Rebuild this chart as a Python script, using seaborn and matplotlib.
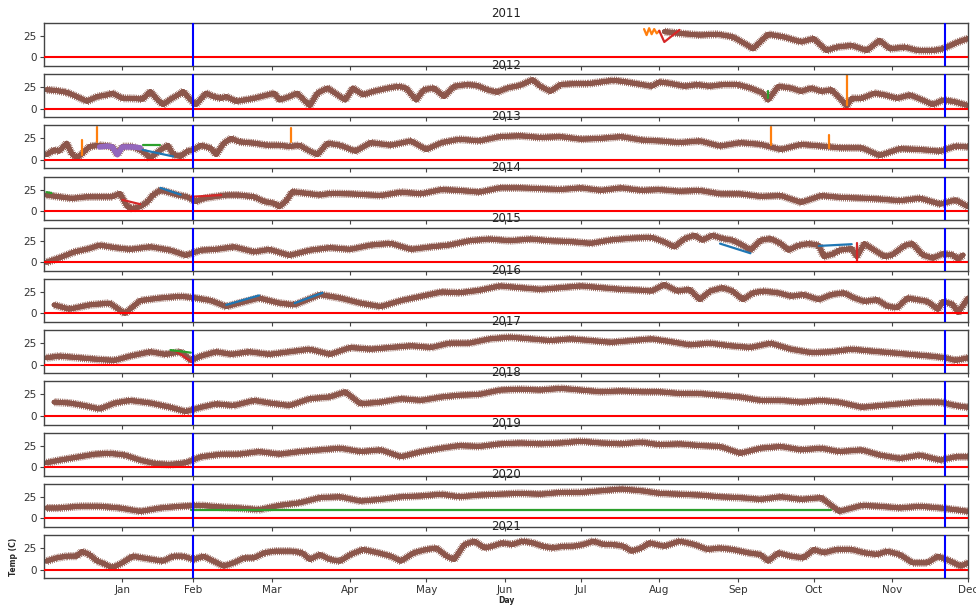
import matplotlib
matplotlib.use("Agg")
import matplotlib.pyplot as plt
import matplotlib.patheffects as pe
import seaborn as sns

# x axis: days counted from Dec 1 of the previous year
month_days = [31, 59, 90, 121, 151, 182, 212, 243, 274, 304, 335, 365]
month_labels = ["Jan", "Feb", "Mar", "Apr", "May", "Jun", "Jul", "Aug", "Sep", "Oct", "Nov", "Dec"]
marker_days = [59, 356]
years = [2011, 2012, 2013, 2014, 2015, 2016, 2017, 2018, 2019, 2020, 2021]

# main logger (brown)
days_2011 = [245, 251, 259, 266, 272, 278, 280, 286, 292, 299, 304, 309, 313, 319, 325, 330, 334, 340, 345, 351, 355, 361, 365]
temp_2011 = [30, 28, 26, 27, 24, 14, 10, 27, 24, 18, 22, 8, 12, 14, 8, 20, 10, 12, 8, 8, 10, 18, 22]

days_2012 = [1, 5, 9, 13, 17, 21, 25, 27, 31, 35, 39, 42, 45, 47, 50, 53, 55, 58, 60, 64,
             67, 70, 72, 76, 79, 83, 87, 91, 93, 97, 100, 102, 105, 108, 112, 114, 119, 122, 126, 130,
             136, 140, 143, 147, 150, 154, 158, 162, 167, 171, 175, 179, 183, 188, 193, 196, 200, 204, 209, 215,
             220, 225, 230, 236, 240, 243, 247, 253, 258, 263, 268, 274, 279, 284, 286, 290, 295, 299, 303, 307,
             311, 315, 317, 319, 323, 328, 332, 337, 342, 347, 351, 355, 359, 365]
temp_2012 = [22, 21, 19, 14, 8.5, 14, 16, 18, 12, 12, 11, 20, 10, 4.6, 11, 16, 20, 10, 4.6, 18,
             14, 12, 14, 8.5, 10, 12, 15, 18, 10, 14, 18, 12, 3.5, 18, 24, 20, 10, 24, 16, 20,
             24, 26, 24, 10, 22, 24, 14, 26, 28, 27, 22, 19, 24, 27, 33.7, 26, 20, 28, 29, 29,
             31, 33, 31, 28, 26, 31, 29.5, 26, 28, 26, 28, 28, 24, 18, 10, 26, 24, 20, 24, 20,
             22, 10, 3, 12, 12, 18, 16, 12, 16, 10, 4.6, 10, 8.5, 3.5]

days_2013 = [1, 4, 6, 9, 11, 13, 15, 18, 22, 27, 29, 31, 35, 39, 42, 46, 49, 51, 54, 56.5,
             59, 62, 66, 68, 71, 74, 77, 83, 88, 93, 97, 101, 104, 108, 112, 117, 123, 129, 137, 145,
             151, 157, 164, 172, 180, 188, 196, 204, 212, 220, 228, 236, 243, 251, 259, 267, 275, 283, 291, 299,
             307, 314, 323, 330, 338, 346, 354, 360, 365]
temp_2013 = [6, 11.6, 10, 19.4, 7, 2, 7, 15.5, 17, 15.5, 6, 15.5, 15.5, 10, 2, 11.6, 17, 6, 4, 10,
             11.6, 17, 13.5, 6, 19.4, 25, 21, 19.4, 17, 17, 15.5, 17, 11.6, 6, 19.4, 17, 10, 20, 17, 22,
             12, 20, 24, 22, 27, 28, 26, 27, 24, 25, 27, 23, 22, 20, 22, 16, 20, 18, 12, 18,
             16, 14, 14, 5, 13, 12, 10, 16, 15]

days_2014 = [1, 6, 11, 17, 22, 27, 30, 33, 35, 38, 41, 43, 46, 49, 53, 56.5, 60, 63, 67, 72,
             77, 83, 87, 91, 93, 96, 98, 104, 109, 113, 121, 133, 141, 149, 157, 164, 172, 180, 188, 196,
             204, 212, 220, 228, 236, 243, 251, 259, 267, 275, 283, 291, 299, 307, 314, 323, 330, 338, 346, 354,
             360, 365]
temp_2014 = [18.6, 16.6, 14.7, 16.6, 16.6, 16.6, 20.5, 5, 3, 5, 11, 18.6, 24.4, 22, 18.6, 16.6, 11, 14.7, 16.6, 18.6,
             18.6, 16.6, 11, 9, 5, 12.8, 22.5, 20.5, 18.6, 20.5, 20, 18, 22, 20, 25, 24, 22, 27, 27, 26,
             25, 27, 24, 27, 24, 25, 23, 24, 20, 20, 17, 18, 10, 18, 16, 15, 14, 12, 15, 8,
             13, 5]

days_2015 = [1, 6, 12, 18, 22, 28, 34, 42, 50, 56, 62, 68, 75, 83, 89, 97, 105, 113, 121, 129,
             137, 145, 153, 160, 168, 176, 184, 192, 200, 208, 216, 224, 232, 240, 245, 249, 253, 257, 260, 264,
             268, 272, 276, 279, 283, 287, 291, 294, 298, 302, 306, 308, 312, 314, 319, 321, 324, 328, 332, 335,
             340, 343, 347, 351, 355, 359, 361, 363]
temp_2015 = [0, 5, 12, 16, 20, 17, 15, 18, 14, 8, 14, 15, 18, 12, 15, 8, 14, 17, 15, 20,
             22, 15, 18, 20, 25, 27, 25, 27, 25, 24, 22, 26, 28, 29, 23.6, 17.8, 27.5, 31.4, 25.6, 31.4,
             27.5, 25.6, 19.7, 14, 25.6, 27.5, 21.7, 14, 19.7, 21.7, 19.7, 6.6, 10, 14, 15.9, 6.6, 21.7, 14, 6.6, 8.5,
             19.7, 21.7, 8.5, 4.7, 10, 8.5, 3.5, 8.5]

days_2016 = [4, 10, 18, 26, 32, 38, 46, 54, 60, 66, 72, 77, 85, 93, 99, 109, 117, 125, 133, 141,
             149, 157, 164, 172, 180, 188, 196, 204, 212, 220, 228, 236, 240, 245, 250, 255, 259, 263, 268, 272,
             276, 280, 284, 290, 295, 300, 306, 311, 316, 320, 324, 329, 333, 337, 341, 345, 349, 353, 355, 359,
             361, 365]
temp_2016 = [10, 5, 10, 12, 0, 15, 18, 20, 18, 15, 8, 12, 18, 12, 10, 22, 18, 12, 8, 15,
             20, 25, 24, 27, 32, 30, 28, 30, 32, 30, 28, 27, 26, 33.7, 26, 28, 16, 26, 30, 26,
             16, 24, 26, 24, 20, 22, 16, 22, 24, 18, 14, 16, 8.5, 6.6, 18, 16, 14, 4.7, 14, 10.5,
             1, 18]

days_2017 = [1, 6, 14, 22, 28, 34, 42, 48, 54, 58, 62, 68, 74, 81, 89, 97, 105, 113, 121, 129,
             137, 145, 153, 160, 168, 176, 184, 192, 200, 208, 216, 224, 232, 240, 247, 255, 263, 271, 279, 287,
             295, 303, 311, 319, 326, 334, 342, 350, 356, 360, 365]
temp_2017 = [8, 10, 8, 6, 5, 10, 15, 12, 15, 5, 10, 15, 12, 15, 12, 15, 18, 12, 20, 18,
             20, 22, 20, 25, 25, 30, 32, 30, 28, 30, 28, 26, 28, 30, 27, 23, 25, 22, 20, 25,
             18, 14, 15, 18, 16, 14, 12, 10, 8, 5, 8]

days_2018 = [4, 10, 16, 22, 28, 34, 42, 50, 56, 62, 68, 75, 83, 89, 97, 105, 113, 119, 125, 133,
             141, 149, 157, 164, 172, 180, 188, 196, 204, 212, 220, 228, 236, 243, 251, 259, 267, 275, 283, 291,
             299, 307, 314, 323, 330, 338, 346, 354, 360, 365]
temp_2018 = [16, 15, 12, 8, 15, 18, 15, 10, 5, 10, 14, 12, 18, 15, 12, 20, 22, 28, 14, 16,
             20, 18, 22, 24, 25, 30, 31, 30, 32, 30, 28, 29, 28, 28, 26, 26, 24, 22, 18, 18,
             16, 18, 16, 10, 12, 14, 16, 16, 12, 10]

days_2019 = [1, 6, 14, 20, 26, 32, 38, 44, 50, 56, 62, 70, 77, 85, 93, 101, 109, 117, 125, 133,
             141, 149, 157, 164, 172, 180, 188, 196, 204, 212, 220, 228, 236, 243, 251, 259, 267, 275, 283, 291,
             299, 307, 314, 323, 330, 338, 346, 354, 360, 365]
temp_2019 = [5, 8, 12, 15, 16, 14, 8, 4, 3, 5, 12, 15, 15, 18, 15, 18, 20, 22, 18, 20,
             12, 18, 22, 25, 24, 27, 28, 27, 28, 30, 28, 27, 29, 26, 27, 25, 24, 16, 22, 24,
             20, 22, 18, 20, 14, 10, 14, 8, 12, 12]

days_2020 = [1, 6, 14, 22, 30, 38, 46, 54, 62, 70, 77, 85, 93, 101, 109, 117, 125, 133, 141, 149,
             157, 164, 172, 180, 188, 196, 204, 212, 220, 228, 236, 243, 251, 259, 267, 275, 283, 291, 299, 307,
             314, 323, 330, 338, 346, 354, 360, 365]
temp_2020 = [12, 12, 14, 14, 12, 8, 12, 14, 15, 13, 12, 10, 15, 18, 24, 25, 20, 22, 25, 26,
             28, 25, 27, 28, 29, 28, 30, 30, 32, 34, 32, 29, 28, 27, 25, 24, 22, 25, 22, 24,
             8, 15, 14, 12, 14, 12, 10, 8]

days_2021 = [1, 5, 9, 13, 15, 18, 21, 23, 27, 31, 35, 39, 43, 47, 51, 55, 59, 63, 67, 71,
             75, 79, 83, 87, 91, 94, 98, 102, 105, 109, 113, 117, 121, 126, 132, 137, 141, 146, 151, 155,
             159, 162, 166, 170, 174, 177, 181, 185, 189, 193, 197, 201, 205, 209, 213, 217, 221, 225, 229, 232,
             236, 239, 245, 251, 257, 262, 267, 272, 278, 283, 286, 290, 295, 300, 304, 308, 313, 319, 324, 329,
             333, 338, 343, 349, 353, 358, 362, 365]
temp_2021 = [9.7, 13.5, 15.5, 15.5, 21, 17.4, 9.7, 7.8, 2, 7.8, 15.5, 13.5, 11.6, 9.7, 15.5, 15.5, 11.6, 15.5, 9.7, 3.9,
             7.8, 13.5, 13.5, 19.4, 21.3, 21.3, 21.3, 19.4, 11.6, 17.4, 11.6, 9.7, 17.4, 23.3, 19.4, 15.5, 9.7, 19.4, 23.3, 25,
             15.5, 11.6, 29, 33, 25, 27, 31, 29, 33, 31, 27, 25, 27, 27, 29, 33, 29, 29, 27, 21.3,
             25, 31, 27, 33, 29, 23.3, 25, 23.3, 19.4, 17.4, 9.7, 19.4, 15.5, 13.5, 23.3, 19.4, 23.3, 23.3, 19.4, 17.4,
             21.3, 17.4, 7.8, 7.8, 15.5, 9.7, 3.9, 7.8]

# the other loggers, only where they stand out from the brown one: (colour, days, temps)
extra_2011 = [("C1", [237, 238, 239, 240, 241, 242, 243], [33, 26, 34, 27, 33, 28, 31]),
              ("C3", [243, 245, 251], [31, 18, 32])]
extra_2012 = [("C1", [317, 317], [39, 4]),
              ("C2", [286, 286], [20, 12])]
extra_2013 = [("C4", [22, 25, 27, 29, 31, 35, 38], [15, 16, 15, 6, 15, 15, 14]),
              ("C0", [39, 51], [11.6, 4]),
              ("C2", [39, 46], [17.4, 17.4]),
              ("C1", [15, 15], [23, 6]),
              ("C1", [21, 21], [38.7, 21]),
              ("C1", [97.5, 97.5], [37, 21]),
              ("C1", [287, 287], [38, 17]),
              ("C1", [310, 310], [29, 14])]
extra_2014 = [("C3", [31, 38], [13, 8]),
              ("C0", [46, 54], [27, 19]),
              ("C3", [58, 70], [16.6, 18.6]),
              ("C2", [1, 3], [22, 21])]
extra_2015 = [("C0", [267, 279], [21.7, 10.5]),
              ("C0", [306, 319], [19, 21]),
              ("C3", [321, 321], [22, 0])]
extra_2016 = [("C0", [72, 85], [10, 21]),
              ("C0", [99, 110], [12, 24])]
extra_2017 = [("C3", [52, 59], [16, 2]),
              ("C2", [50, 58], [17, 14])]
extra_2020 = [("C2", [58, 311], [10, 10])]

main_days = dict(zip(years, [days_2011, days_2012, days_2013, days_2014, days_2015, days_2016,
                             days_2017, days_2018, days_2019, days_2020, days_2021]))
main_temp = dict(zip(years, [temp_2011, temp_2012, temp_2013, temp_2014, temp_2015, temp_2016,
                             temp_2017, temp_2018, temp_2019, temp_2020, temp_2021]))
extras = {2011: extra_2011, 2012: extra_2012, 2013: extra_2013, 2014: extra_2014,
          2015: extra_2015, 2016: extra_2016, 2017: extra_2017, 2020: extra_2020}

sns.set_style("ticks")
plt.rcParams["font.family"] = ["DejaVu Sans"]
plt.rcParams["axes.edgecolor"] = "#444444"
plt.rcParams["xtick.color"] = "#444444"
plt.rcParams["ytick.color"] = "#444444"
plt.rcParams["xtick.labelcolor"] = "#333333"
plt.rcParams["ytick.labelcolor"] = "#333333"

fig, axes = plt.subplots(len(years), 1, figsize=(9.76, 6.06), dpi=100, sharex=True, sharey=True)
fig.subplots_adjust(left=0.045, right=0.992, top=0.962, bottom=0.046, hspace=0.19)

brown = sns.color_palette()[5]
# hourly swing of the logger shows as a fuzzy band
band_fx = [pe.withTickedStroke(angle=90, spacing=1.3, length=2.0, linewidth=0.6, foreground=brown),
           pe.withTickedStroke(angle=-90, spacing=1.5, length=1.8, linewidth=0.6, foreground=brown),
           pe.Normal()]


def draw(ax, d, t, color, lw, fx=None):
    sns.lineplot(x=d, y=t, ax=ax, color=color, linewidth=lw,
                 estimator=None, sort=False, legend=False, path_effects=fx)


for ax, yr in zip(axes, years):
    draw(ax, main_days[yr], main_temp[yr], brown, 3.4, band_fx)
    for color, d, t in extras.get(yr, []):
        draw(ax, d, t, color, 1.6 if color != "C4" else 4.0)
    ax.axhline(0, color="red", lw=1.5, zorder=5)
    for md in marker_days:
        ax.axvline(md, color="blue", lw=1.5, zorder=5)
    ax.set_title(str(yr), fontsize=8.5, pad=4, color="#222222")
    ax.set_xlim(0, 365)
    ax.set_ylim(-10, 40)
    ax.set_yticks([0, 25])
    ax.set_xticks(month_days)
    ax.set_xticklabels(month_labels)
    ax.tick_params(labelsize=7.5, length=3, width=0.8, pad=2)
    ax.set_xlabel("")
    ax.set_ylabel("")
    for s in ax.spines.values():
        s.set_linewidth(1.0)

axes[-1].set_ylabel("Temp (C)", fontsize=5.5, fontweight="bold")
axes[-1].set_xlabel("Day", fontsize=5.5, fontweight="bold", labelpad=0.5)

fig.savefig("out.png", dpi=100)
